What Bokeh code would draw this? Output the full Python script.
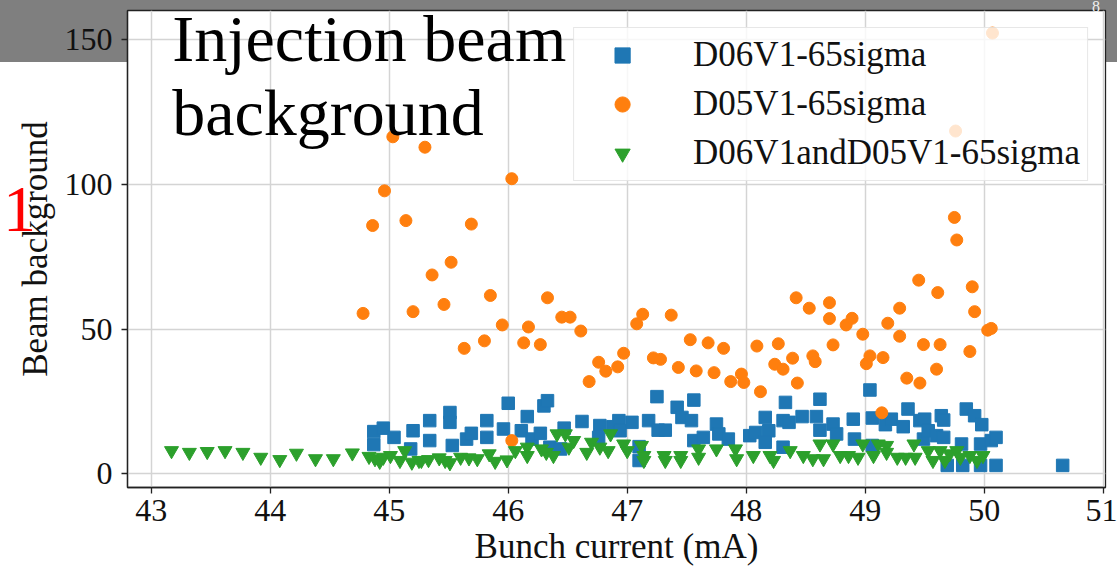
from bokeh.plotting import figure
from bokeh.models import (Range1d, Label, Legend, LegendItem, Div,
                          FixedTicker, ColumnDataSource)
from bokeh.embed import file_html
from bokeh.resources import INLINE

# ---- data -------------------------------------------------------------
x_ticks = [43, 44, 45, 46, 47, 48, 49, 50, 51]
y_ticks = [0, 50, 100, 150]

series_names = ["D06V1-65sigma", "D05V1-65sigma", "D06V1andD05V1-65sigma"]

# D06V1 only (bunch current in mA, background counts)
d06_x = [44.87, 44.87, 44.95, 45.04, 45.18, 45.20, 45.34, 45.34, 45.51, 45.51,
         45.53, 45.65, 45.69, 45.82, 45.82, 45.96, 46.00, 46.11, 46.16, 46.20,
         46.27, 46.30, 46.33, 46.35, 46.44, 46.47, 46.62, 46.77, 46.76, 46.88,
         46.93, 46.94, 47.04, 47.10, 47.10, 47.18, 47.25, 47.26, 47.32, 47.42,
         47.46, 47.54, 47.56, 47.56, 47.64, 47.75, 47.77, 47.85, 48.03, 48.08,
         48.16, 48.19, 48.16, 48.31, 48.33, 48.31, 48.36, 48.47, 48.59, 48.62,
         48.62, 48.73, 48.76, 48.90, 48.91, 49.04, 49.06, 49.06, 49.17, 49.22,
         49.32, 49.36, 49.46, 49.50, 49.49, 49.53, 49.60, 49.66, 49.64, 49.66,
         49.69, 49.81, 49.82, 49.85, 49.92, 49.98, 49.97, 49.97, 50.06, 50.10,
         50.10, 50.66]
d06_y = [14.5, 10.0, 15.7, 12.5, 8.5, 14.8, 18.3, 11.4, 21.1, 17.7,
         9.7, 11.9, 13.9, 18.3, 12.5, 15.4, 24.3, 14.8, 19.7, 11.9,
         13.9, 23.4, 25.2, 9.1, 8.5, 15.7, 18.0, 16.6, 12.5, 16.2,
         18.3, 14.8, 17.7, 9.3, 4.5, 18.3, 26.6, 15.0, 15.0, 22.9,
         19.4, 18.3, 25.4, 11.4, 12.5, 17.1, 13.7, 11.9, 13.1, 14.2,
         19.4, 14.8, 10.8, 9.1, 24.6, 18.3, 17.7, 19.7, 19.7, 25.7,
         15.0, 17.1, 13.7, 18.8, 11.9, 28.9, 19.2, 9.7, 16.9, 18.8,
         16.2, 22.3, 18.3, 18.8, 11.9, 14.8, 13.1, 12.5, 20.0, 18.5,
         2.8, 10.2, 2.8, 22.3, 20.0, 16.9, 10.2, 2.8, 11.4, 12.5,
         2.8, 2.8]

# D05V1 only
d05_x = [44.78, 44.86, 44.96, 45.03, 45.14, 45.20, 45.30, 45.36, 45.46, 45.52,
         45.63, 45.69, 45.80, 45.85, 45.95, 46.03, 46.03, 46.13, 46.17, 46.27,
         46.33, 46.45, 46.52, 46.61, 46.68, 46.76, 46.82, 46.92, 46.97, 47.08,
         47.13, 47.22, 47.28, 47.37, 47.43, 47.53, 47.58, 47.68, 47.73, 47.81,
         47.87, 47.96, 47.98, 48.09, 48.12, 48.24, 48.27, 48.31, 48.39, 48.42,
         48.43, 48.53, 48.56, 48.58, 48.70, 48.70, 48.73, 48.84, 48.89, 48.98,
         49.01, 49.04, 49.14, 49.15, 49.19, 49.29, 49.29, 49.35, 49.45, 49.46,
         49.49, 49.60, 49.61, 49.63, 49.75, 49.76, 49.77, 49.88, 49.90, 49.92,
         50.03, 50.06, 50.07]
d05_y = [55.4, 85.8, 97.8, 116.5, 87.5, 56.0, 112.9, 68.7, 58.5, 73.1,
         43.3, 86.3, 45.9, 61.6, 51.4, 102.0, 11.4, 45.2, 50.7, 44.6,
         60.8, 54.1, 54.1, 49.3, 31.8, 38.5, 35.4, 36.9, 41.6, 51.8,
         55.1, 40.0, 39.5, 54.8, 36.7, 46.3, 35.5, 45.2, 34.9, 43.3,
         31.8, 34.4, 31.5, 44.1, 28.3, 37.8, 44.9, 36.1, 39.9, 60.8,
         31.3, 57.2, 40.7, 38.7, 59.1, 53.6, 44.5, 51.4, 53.7, 48.2,
         38.0, 40.7, 21.0, 40.1, 52.0, 57.2, 47.5, 33.0, 66.9, 31.3,
         44.6, 36.1, 62.6, 44.6, 88.6, 118.5, 80.8, 42.2, 64.6, 56.0,
         49.6, 50.2, 152.4]

# coincidence of D06V1 and D05V1
both_x = [43.17, 43.32, 43.47, 43.62, 43.77, 43.92, 44.08, 44.22, 44.38, 44.53,
          44.69, 44.83, 44.88, 44.92, 44.95, 45.01, 45.09, 45.13, 45.19, 45.25,
          45.27, 45.33, 45.42, 45.47, 45.51, 45.60, 45.67, 45.74, 45.84, 45.89,
          45.99, 46.06, 46.16, 46.16, 46.28, 46.32, 46.38, 46.41, 46.48, 46.51,
          46.55, 46.66, 46.70, 46.77, 46.84, 46.86, 46.97, 47.00, 47.12, 47.14,
          47.14, 47.31, 47.32, 47.45, 47.45, 47.60, 47.60, 47.75, 47.91, 47.92,
          48.06, 48.20, 48.23, 48.37, 48.48, 48.56, 48.62, 48.65, 48.73, 48.79,
          48.86, 48.94, 48.98, 49.07, 49.11, 49.18, 49.18, 49.27, 49.34, 49.41,
          49.42, 49.53, 49.57, 49.63, 49.67, 49.71, 49.77, 49.80, 49.88, 49.94,
          49.99]
both_y = [7.9, 7.3, 7.6, 7.9, 7.3, 5.6, 4.8, 7.0, 5.1, 5.1,
          7.1, 5.9, 5.1, 4.2, 5.6, 6.2, 4.5, 7.9, 3.9, 4.5,
          4.5, 4.8, 5.4, 4.5, 3.7, 5.6, 5.4, 5.1, 6.8, 4.2,
          4.7, 7.9, 9.1, 6.2, 8.5, 7.3, 6.2, 13.7, 13.7, 9.1,
          11.4, 7.3, 10.8, 9.1, 7.9, 13.7, 10.2, 7.9, 9.7, 6.2,
          4.5, 6.2, 4.5, 6.2, 4.5, 8.5, 5.6, 8.5, 8.5, 5.1,
          6.2, 6.2, 4.5, 7.9, 6.2, 5.1, 10.2, 5.1, 10.2, 6.2,
          6.2, 5.6, 10.2, 6.2, 10.2, 9.7, 7.3, 5.6, 5.6, 10.2,
          5.6, 7.9, 4.5, 7.9, 4.5, 6.8, 7.9, 5.6, 6.2, 4.5,
          6.2]

# ---- figure -----------------------------------------------------------
SERIF = "Liberation Serif"
BLUE, ORANGE, GREEN = "#1f77b4", "#ff7f0e", "#2ca02c"
SLIDE_GREY = "#7f7f7f"

p = figure(width=1117, height=569,
           x_range=Range1d(42.8, 51.02), y_range=Range1d(-4.84, 160.2),
           output_backend="svg", toolbar_location=None,
           min_border_left=127, min_border_right=12,
           min_border_top=10, min_border_bottom=82)
p.background_fill_color = "white"
# transparent border so the slide's grey header band shows around the axes
p.border_fill_color = None
p.styles = {"background": f"linear-gradient({SLIDE_GREY} 0px, {SLIDE_GREY} 62px, "
                          "#ffffff 62px, #ffffff 100%)"}
p.outline_line_color = "#222222"
p.outline_line_width = 1.3

# axes
for ax in (p.xaxis, p.yaxis):
    ax.axis_line_color = "#222222"
    ax.axis_line_width = 1.3
    ax.major_tick_line_color = "#222222"
    ax.major_tick_line_width = 1.3
    ax.major_tick_out = 6
    ax.major_tick_in = 0
    ax.minor_tick_line_color = None
    ax.major_label_text_font = SERIF
    ax.major_label_text_font_size = "32px"
    ax.major_label_text_color = "#111111"
    ax.axis_label_text_font = SERIF
    ax.axis_label_text_font_size = "35px"
    ax.axis_label_text_font_style = "normal"
    ax.axis_label_text_color = "#111111"

p.xaxis.ticker = FixedTicker(ticks=x_ticks)
p.yaxis.ticker = FixedTicker(ticks=y_ticks)
p.xaxis.axis_label = "Bunch current (mA)"
p.yaxis.axis_label = "Beam background"
p.xaxis.major_label_standoff = 6
p.xaxis.axis_label_standoff = 3
p.yaxis.major_label_standoff = 9
p.yaxis.axis_label_standoff = 7

p.xgrid.ticker = FixedTicker(ticks=x_ticks)
p.ygrid.ticker = FixedTicker(ticks=y_ticks)
for g in (p.xgrid, p.ygrid):
    g.grid_line_color = "#d4d4d4"
    g.grid_line_width = 1.5

# scatter series
src06 = ColumnDataSource(dict(x=d06_x, y=d06_y))
src05 = ColumnDataSource(dict(x=d05_x, y=d05_y))
srcb = ColumnDataSource(dict(x=both_x, y=both_y))

r06 = p.scatter("x", "y", source=src06, marker="square", size=12.5,
                fill_color=BLUE, line_color=BLUE)
r05 = p.scatter("x", "y", source=src05, marker="circle", size=12,
                fill_color=ORANGE, line_color=ORANGE)
rb = p.scatter("x", "y", source=srcb, marker="inverted_triangle", size=14,
               fill_color=GREEN, line_color=GREEN)

legend = Legend(items=[LegendItem(label=series_names[0], renderers=[r06]),
                       LegendItem(label=series_names[1], renderers=[r05]),
                       LegendItem(label=series_names[2], renderers=[rb])],
                location="top_right")
legend.margin = 17
legend.padding = 7
legend.spacing = 9
legend.glyph_width = 82
legend.glyph_height = 38
legend.label_height = 38
legend.label_standoff = 30
legend.label_text_font = SERIF
legend.label_text_font_size = "35px"
legend.label_text_color = "#111111"
legend.label_text_baseline = "middle"
legend.background_fill_color = "white"
legend.background_fill_alpha = 0.8
legend.border_line_color = "#d0d0d0"
legend.border_line_width = 1.2
p.add_layout(legend, "center")

# slide text laid over the chart
p.add_layout(Label(x=43.176, y=150.5, text="Injection beam",
                   text_font=SERIF, text_font_size="66px", text_color="black",
                   text_align="left", text_baseline="alphabetic"))
p.add_layout(Label(x=43.176, y=124.8, text="background",
                   text_font=SERIF, text_font_size="66px", text_color="black",
                   text_align="left", text_baseline="alphabetic"))

# slide fragments outside the axes: red marker text and the page number
slide_bits = [
    Div(text="1", margin=(0, 0, 0, 0),
        styles={"position": "absolute", "left": "3px", "top": "176px",
                "color": "#ff0000", "font-family": SERIF, "font-size": "66px",
                "line-height": "1", "padding": "0", "margin": "0"}),
    Div(text="8", margin=(0, 0, 0, 0),
        styles={"position": "absolute", "left": "1092px", "top": "-1px",
                "color": "#f0f0f0", "font-family": SERIF, "font-size": "16px",
                "line-height": "1", "padding": "0", "margin": "0"}),
]
p.elements = slide_bits

open("out.html", "w").write(file_html(p, INLINE))
